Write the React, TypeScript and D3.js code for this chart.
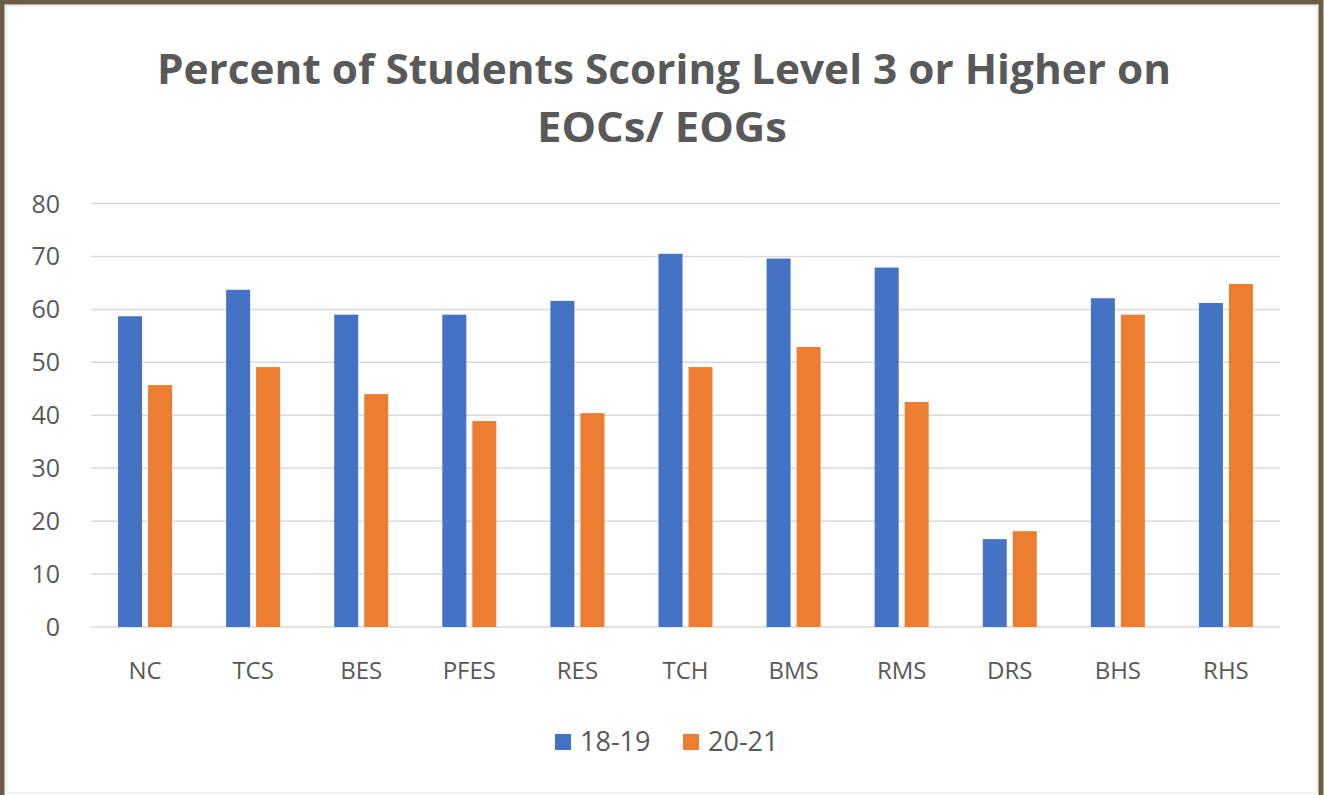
import { useRef, useEffect } from 'react';
import * as d3 from 'd3';

const schools = ['NC', 'TCS', 'BES', 'PFES', 'RES', 'TCH', 'BMS', 'RMS', 'DRS', 'BHS', 'RHS'];
const y1819 = [58.7, 63.7, 59.0, 59.0, 61.6, 70.5, 69.6, 67.9, 16.6, 62.1, 61.2];
const y2021 = [45.7, 49.1, 44.0, 38.9, 40.4, 49.1, 52.9, 42.5, 18.1, 59.0, 64.8];
const seriesNames = ['18-19', '20-21'];
const seriesColors = ['#4472C4', '#ED7D31'];
const yTicks = [0, 10, 20, 30, 40, 50, 60, 70, 80];

const W = 1325;
const H = 795;
const FONT = "'Open Sans', 'Liberation Sans', sans-serif";

export default function App() {
  const svgRef = useRef<SVGSVGElement>(null);

  useEffect(() => {
    if (!svgRef.current) return;
    const svg = d3.select(svgRef.current);
    svg.selectAll('*').remove();

    // frame
    svg.append('rect').attr('width', W).attr('height', H).attr('fill', '#ffffff');
    svg.append('rect')
      .attr('x', 2).attr('y', 2).attr('width', W - 6).attr('height', H + 10)
      .attr('fill', 'none').attr('stroke', '#6b5d45').attr('stroke-width', 5);
    svg.append('rect')
      .attr('x', 6).attr('y', 6).attr('width', W - 14).attr('height', H - 8)
      .attr('fill', 'none').attr('stroke', '#e4e4e4').attr('stroke-width', 1);

    const left = 91;
    const right = 1280;
    const top = 203.5;
    const bottom = 627;

    const x = d3.scaleBand<string>().domain(schools).range([left, right]);
    const y = d3.scaleLinear().domain([0, 80]).range([bottom, top]);
    const barW = 24;
    const gap = 6;

    // title
    const title = svg.append('text')
      .attr('text-anchor', 'middle')
      .attr('font-family', FONT)
      .attr('font-weight', 700)
      .attr('font-size', 41)
      .attr('fill', '#595959');
    title.append('tspan').attr('x', 664).attr('y', 84)
      .attr('textLength', 1014).attr('lengthAdjust', 'spacingAndGlyphs')
      .text('Percent of Students Scoring Level 3 or Higher on');
    title.append('tspan').attr('x', 662).attr('y', 142)
      .attr('textLength', 250).attr('lengthAdjust', 'spacingAndGlyphs')
      .text('EOCs/ EOGs');

    // gridlines
    svg.append('g')
      .selectAll('line')
      .data(yTicks)
      .join('line')
      .attr('x1', left).attr('x2', right)
      .attr('y1', (d) => y(d)).attr('y2', (d) => y(d))
      .attr('stroke', '#d9d9d9').attr('stroke-width', 1.5);

    // y labels
    svg.append('g')
      .selectAll('text')
      .data(yTicks)
      .join('text')
      .attr('x', 60).attr('y', (d) => y(d) + 9)
      .attr('text-anchor', 'end')
      .attr('font-family', FONT).attr('font-size', 25)
      .attr('fill', '#595959')
      .text((d) => d);

    // bars
    const series = [y1819, y2021];
    series.forEach((vals, si) => {
      svg.append('g')
        .selectAll('rect')
        .data(schools)
        .join('rect')
        .attr('x', (d) => {
          const c = (x(d) ?? 0) + x.bandwidth() / 2;
          return si === 0 ? c - gap / 2 - barW : c + gap / 2;
        })
        .attr('y', (_, i) => y(vals[i]))
        .attr('width', barW)
        .attr('height', (_, i) => bottom - y(vals[i]))
        .attr('fill', seriesColors[si]);
    });

    // x labels
    svg.append('g')
      .selectAll('text')
      .data(schools)
      .join('text')
      .attr('x', (d) => (x(d) ?? 0) + x.bandwidth() / 2)
      .attr('y', 679)
      .attr('text-anchor', 'middle')
      .attr('font-family', FONT).attr('font-size', 24)
      .attr('fill', '#595959')
      .text((d) => d);

    // legend
    const legendX = [555, 683];
    seriesNames.forEach((name, i) => {
      svg.append('rect')
        .attr('x', legendX[i]).attr('y', 734)
        .attr('width', 16).attr('height', 16)
        .attr('fill', seriesColors[i]);
      svg.append('text')
        .attr('x', legendX[i] + 25).attr('y', 751)
        .attr('font-family', FONT).attr('font-size', 27)
        .attr('fill', '#595959')
        .text(name);
    });
  }, []);

  return (
    <div style={{ position: 'absolute', left: 0, top: 0 }}>
      <svg ref={svgRef} width={W} height={H} style={{ display: 'block' }} />
    </div>
  );
}
